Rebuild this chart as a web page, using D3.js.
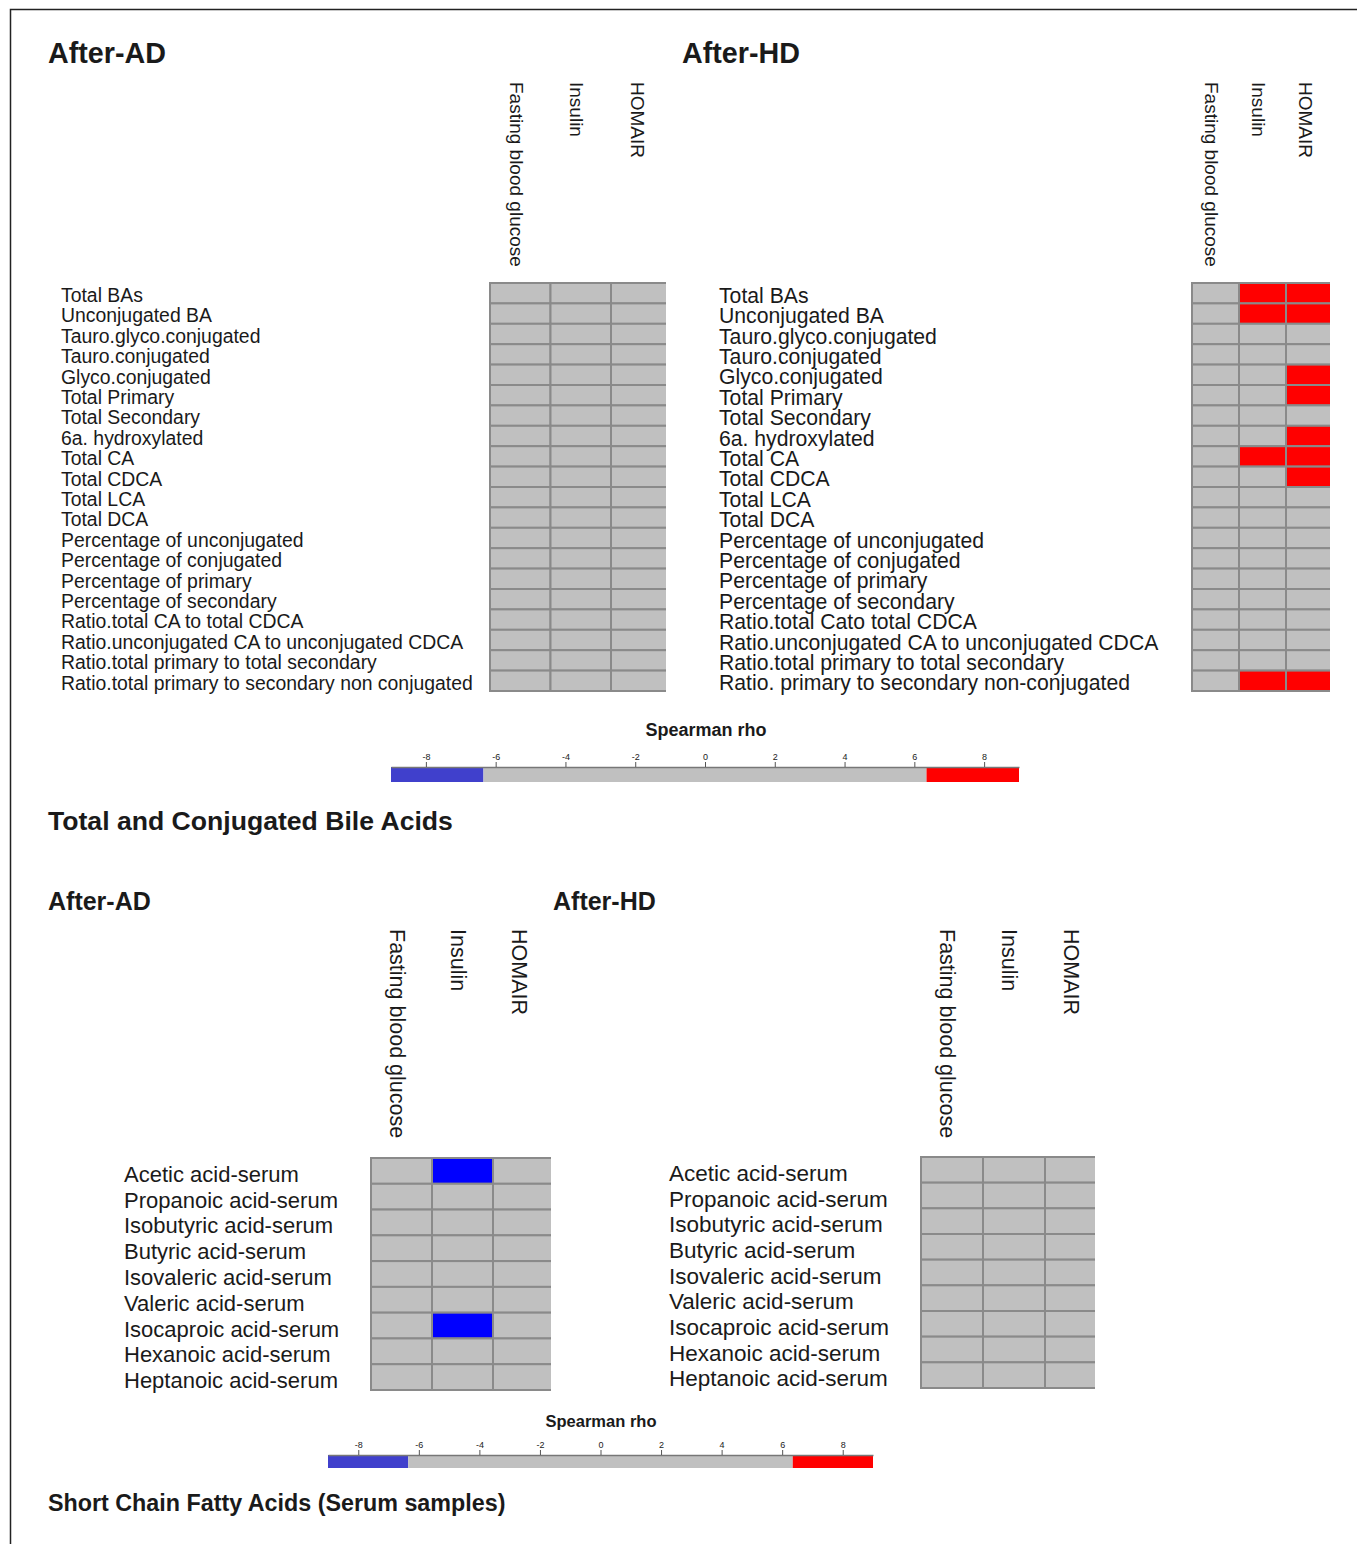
<!DOCTYPE html>
<html>
<head>
<meta charset="utf-8">
<script src="https://cdn.jsdelivr.net/npm/d3@7"></script>
<style>
  body { margin: 0; background: #fff; }
  text { font-family: "Liberation Sans", Arial, sans-serif; fill: #1a1a1a; }
</style>
</head>
<body>
<script>
var width = 1357,
    height = 1544;

// clinical variables (columns)
var clinical = ['Fasting blood glucose', 'Insulin', 'HOMAIR'];

// bile acid rows
var baRowsAD = [
  'Total BAs', 'Unconjugated BA', 'Tauro.glyco.conjugated', 'Tauro.conjugated',
  'Glyco.conjugated', 'Total Primary', 'Total Secondary', '6a. hydroxylated',
  'Total CA', 'Total CDCA', 'Total LCA', 'Total DCA',
  'Percentage of unconjugated', 'Percentage of conjugated', 'Percentage of primary',
  'Percentage of secondary', 'Ratio.total CA to total CDCA',
  'Ratio.unconjugated CA to unconjugated CDCA', 'Ratio.total primary to total secondary',
  'Ratio.total primary to secondary non conjugated'
];
var baRowsHD = [
  'Total BAs', 'Unconjugated BA', 'Tauro.glyco.conjugated', 'Tauro.conjugated',
  'Glyco.conjugated', 'Total Primary', 'Total Secondary', '6a. hydroxylated',
  'Total CA', 'Total CDCA', 'Total LCA', 'Total DCA',
  'Percentage of unconjugated', 'Percentage of conjugated', 'Percentage of primary',
  'Percentage of secondary', 'Ratio.total Cato total CDCA',
  'Ratio.unconjugated CA to unconjugated CDCA', 'Ratio.total primary to total secondary',
  'Ratio. primary to secondary non-conjugated'
];

// short chain fatty acid rows
var scfaRows = [
  'Acetic acid-serum', 'Propanoic acid-serum', 'Isobutyric acid-serum',
  'Butyric acid-serum', 'Isovaleric acid-serum', 'Valeric acid-serum',
  'Isocaproic acid-serum', 'Hexanoic acid-serum', 'Heptanoic acid-serum'
];

// Spearman rho (x10), one row per variable: [glucose, insulin, homair]
var baRhoAD = [
  [0, 0, 0], [0, 0, 0], [0, 0, 0], [0, 0, 0], [0, 0, 0],
  [0, 0, 0], [0, 0, 0], [0, 0, 0], [0, 0, 0], [0, 0, 0],
  [0, 0, 0], [0, 0, 0], [0, 0, 0], [0, 0, 0], [0, 0, 0],
  [0, 0, 0], [0, 0, 0], [0, 0, 0], [0, 0, 0], [0, 0, 0]
];
var baRhoHD = [
  [0, 7.5, 7.5], [0, 7.5, 7.5], [0, 0, 0], [0, 0, 0], [0, 0, 7.5],
  [0, 0, 7.5], [0, 0, 0], [0, 0, 7.5], [0, 7.5, 7.5], [0, 0, 7.5],
  [0, 0, 0], [0, 0, 0], [0, 0, 0], [0, 0, 0], [0, 0, 0],
  [0, 0, 0], [0, 0, 0], [0, 0, 0], [0, 0, 0], [0, 7.5, 7.5]
];
var scfaRhoAD = [
  [0, -7.5, 0], [0, 0, 0], [0, 0, 0], [0, 0, 0], [0, 0, 0],
  [0, 0, 0], [0, -7.5, 0], [0, 0, 0], [0, 0, 0]
];
var scfaRhoHD = [
  [0, 0, 0], [0, 0, 0], [0, 0, 0], [0, 0, 0], [0, 0, 0],
  [0, 0, 0], [0, 0, 0], [0, 0, 0], [0, 0, 0]
];

var legendTicks = [-8, -6, -4, -2, 0, 2, 4, 6, 8];
var rhoCuts = [-6.35, 6.35];
var rhoDomain = [-9, 9];

var color = d3.scaleThreshold()
  .domain(rhoCuts)
  .range(['#0000ff', '#c0c0c0', '#ff0000']);

var legendColor = d3.scaleThreshold()
  .domain(rhoCuts)
  .range(['#4040cc', '#c0c0c0', '#ff0000']);

var svg = d3.select('body')
  .append('svg')
  .attr('width', width)
  .attr('height', height);

var defs = svg.append('defs');
var clipId = 0;

// frame
svg.append('path')
  .attr('d', 'M10.5,' + height + 'V9.5H' + width)
  .attr('fill', 'none')
  .attr('stroke', '#222')
  .attr('stroke-width', 1.5);

function heatmap(opt) {
  var x = d3.scaleBand().domain(clinical).range([opt.x0, opt.x0 + opt.colW * clinical.length]);
  var y = d3.scaleBand().domain(opt.rows).range([opt.y0, opt.y1]);
  var g = svg.append('g');

  // the original image is cropped on the right edge of each grid
  var id = 'clip' + (clipId++);
  defs.append('clipPath').attr('id', id)
    .append('rect')
    .attr('x', opt.x0 - 3)
    .attr('y', opt.y0 - 3)
    .attr('width', opt.clipX - opt.x0 + 3)
    .attr('height', opt.y1 - opt.y0 + 6);

  var cells = [];
  opt.rows.forEach(function (r, i) {
    clinical.forEach(function (c, j) {
      cells.push({ row: r, col: c, v: opt.values[i][j] });
    });
  });

  g.append('g')
    .attr('clip-path', 'url(#' + id + ')')
    .selectAll('rect')
    .data(cells)
    .enter().append('rect')
    .attr('x', function (d) { return x(d.col); })
    .attr('y', function (d) { return y(d.row); })
    .attr('width', x.bandwidth())
    .attr('height', y.bandwidth())
    .attr('fill', function (d) { return color(d.v); })
    .attr('stroke', '#8a8a8a')
    .attr('stroke-width', 2);

  g.selectAll('.rowlab')
    .data(opt.rows)
    .enter().append('text')
    .attr('class', 'rowlab')
    .attr('x', opt.labelX)
    .attr('y', function (d) { return y(d) + y.bandwidth() / 2; })
    .attr('dy', opt.labelDy)
    .style('font-size', opt.labelSize + 'px')
    .text(function (d) { return d; });

  g.selectAll('.collab')
    .data(clinical)
    .enter().append('text')
    .attr('class', 'collab')
    .attr('transform', function (d) {
      return 'translate(' + (x(d) + x.bandwidth() / 2 - 4) + ',' + opt.headY + ') rotate(90)';
    })
    .attr('dy', '0.35em')
    .style('font-size', opt.headSize + 'px')
    .text(function (d) { return d; });
}

function legend(opt) {
  var x = d3.scaleLinear().domain(rhoDomain).range([opt.x0, opt.x1]);
  var g = svg.append('g');
  var segs = [rhoDomain[0]].concat(rhoCuts).concat([rhoDomain[1]]);

  g.selectAll('rect')
    .data(d3.pairs(segs))
    .enter().append('rect')
    .attr('x', function (d) { return x(d[0]); })
    .attr('y', opt.y)
    .attr('width', function (d) { return x(d[1]) - x(d[0]); })
    .attr('height', opt.h)
    .attr('fill', function (d) { return legendColor((d[0] + d[1]) / 2); });

  var axis = g.append('g')
    .attr('transform', 'translate(0,' + opt.y + ')')
    .call(d3.axisTop(x).tickValues(legendTicks).tickFormat(d3.format('d')).tickSize(5).tickSizeOuter(0));
  axis.select('.domain').attr('stroke', '#777').attr('stroke-width', 1.5);
  axis.selectAll('.tick line').attr('stroke', '#555');
  axis.selectAll('.tick text')
    .attr('y', -7)
    .text(function (d) { return String(d); })
    .style('font-size', '9px')
    .style('font-family', '"Liberation Sans", Arial, sans-serif')
    .attr('fill', '#444');

  g.append('text')
    .attr('x', opt.titleX)
    .attr('y', opt.titleY)
    .attr('text-anchor', 'middle')
    .style('font-size', opt.titleSize + 'px')
    .style('font-weight', 'bold')
    .text('Spearman rho');
}

function title(txt, x, y, size) {
  svg.append('text')
    .attr('x', x)
    .attr('y', y)
    .style('font-size', size + 'px')
    .style('font-weight', 'bold')
    .text(txt);
}

// Bile acids
title('After-AD', 48, 63, 28.7);
title('After-HD', 682, 63, 28.7);

heatmap({
  rows: baRowsAD, values: baRhoAD,
  x0: 490, colW: 60.5, clipX: 666, y0: 283, y1: 691,
  labelX: 61, labelSize: 19.4, labelDy: '0.45em', headY: 82, headSize: 19
});
heatmap({
  rows: baRowsHD, values: baRhoHD,
  x0: 1192, colW: 47, clipX: 1330, y0: 283, y1: 691,
  labelX: 719, labelSize: 21.2, labelDy: '0.45em', headY: 82, headSize: 19
});

legend({ x0: 391, x1: 1019, y: 767, h: 15, titleX: 706, titleY: 736, titleSize: 18 });
title('Total and Conjugated Bile Acids', 48, 830, 26.6);

// Short chain fatty acids
title('After-AD', 48, 910, 25);
title('After-HD', 553, 910, 25);

heatmap({
  rows: scfaRows, values: scfaRhoAD,
  x0: 371, colW: 61, clipX: 551, y0: 1158, y1: 1390,
  labelX: 124, labelSize: 22, labelDy: '0.5em', headY: 929, headSize: 21.5
});
heatmap({
  rows: scfaRows, values: scfaRhoHD,
  x0: 921, colW: 62, clipX: 1095, y0: 1157, y1: 1388,
  labelX: 669, labelSize: 22.5, labelDy: '0.5em', headY: 929, headSize: 21.5
});

legend({ x0: 328, x1: 873, y: 1455, h: 13, titleX: 601, titleY: 1427, titleSize: 16.5 });
title('Short Chain Fatty Acids (Serum samples)', 48, 1511, 23.3);
</script>
</body>
</html>
